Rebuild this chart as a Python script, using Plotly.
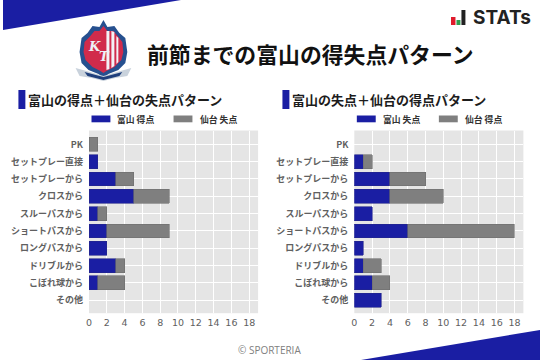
import plotly.graph_objects as go

W, H = 540, 360
categories = ["PK", "セットプレー直接", "セットプレーから", "クロスから", "スルーパスから",
              "ショートパスから", "ロングパスから", "ドリブルから", "こぼれ球から", "その他"]
toyama_scored = [0, 1, 3, 5, 1, 2, 2, 3, 1, 0]
sendai_conceded = [1, 0, 2, 4, 1, 7, 0, 1, 3, 0]
toyama_conceded = [0, 1, 4, 4, 2, 6, 1, 1, 2, 3]
sendai_scored = [0, 1, 4, 6, 0, 12, 0, 2, 2, 0]
x_ticks = list(range(0, 20, 2))

BLUE = "#1a1ea3"
GRAY = "#7f7f7f"
TICK = "#606060"
CJK = "Noto Sans CJK JP"

def px(x): return x / W
def py(y): return 1 - y / H

def path(points, close=True):
    s = "M" + " L".join(f"{px(x):.5f},{py(y):.5f}" for x, y in points)
    return s + (" Z" if close else "")

fig = go.Figure()
panels = [
    (toyama_scored, sendai_conceded, "富山 得点", "仙台 失点", "富山の得点＋仙台の失点パターン", 86.5, 15.5, 25.5, "x", "y"),
    (toyama_conceded, sendai_scored, "富山 失点", "仙台 得点", "富山の失点＋仙台の得点パターン", 353.3, 281, 290.8, "x2", "y2"),
]
shapes, notes = [], []

def rect(x0, y0, x1, y1, color):
    shapes.append(dict(type="rect", xref="paper", yref="paper", x0=px(x0), x1=px(x1), y0=py(y1), y1=py(y0),
                       fillcolor=color, line=dict(width=0), layer="above"))

def poly(points, color, lc=None, lw=0):
    shapes.append(dict(type="path", xref="paper", yref="paper", path=path(points), fillcolor=color,
                       line=dict(width=lw, color=lc or color), layer="above"))

def text(x, y, s, size, color="#222222", anchor="left", family=CJK, bold=False, italic=False):
    if bold: s = f"<b>{s}</b>"
    if italic: s = f"<i>{s}</i>"
    notes.append(dict(xref="paper", yref="paper", x=px(x), y=py(y), text=s, showarrow=False, xanchor=anchor,
                      yanchor="middle", font=dict(size=size, color=color, family=family), borderpad=0, borderwidth=0))

def edge(values):
    return [0.6 if v else 0 for v in values]

layout_axes = {}
for a, b, na, nb, title, x0, block_x, title_x, xa, ya in panels:
    fig.add_trace(go.Bar(y=categories, x=a, name=na, orientation="h", xaxis=xa, yaxis=ya, width=0.8,
                         marker=dict(color=BLUE, line=dict(width=edge(a), color="#24278a")), showlegend=False))
    fig.add_trace(go.Bar(y=categories, x=b, name=nb, orientation="h", xaxis=xa, yaxis=ya, width=0.8,
                         marker=dict(color=GRAY, line=dict(width=edge(b), color="#6e6e6e")), showlegend=False))
    suffix = "" if xa == "x" else "2"
    layout_axes["xaxis" + suffix] = dict(
        domain=[px(x0), px(x0 + 170)], range=[0, 19], tickvals=x_ticks, showgrid=True, gridcolor="white", gridwidth=1,
        zeroline=False, showline=False, ticks="", anchor=ya, ticklabelstandoff=2,
        tickfont=dict(size=9.5, color=TICK, family="DejaVu Sans"))
    layout_axes["yaxis" + suffix] = dict(
        domain=[py(313.2), py(130.5)], type="category", categoryorder="array", categoryarray=categories,
        range=[9.75, -0.8], showgrid=True, gridcolor="white", gridwidth=1, zeroline=False, showline=False, ticks="",
        anchor=xa, ticklabelstandoff=5, tickfont=dict(size=9, color=TICK, family=CJK, weight="bold"))
    # panel heading and legend
    rect(block_x, 90, block_x + 7, 109, BLUE)
    text(title_x, 99.5, title, 13.0, family=CJK, color="#1c1c1c", bold=True)
    rect(x0 + 2.5, 115.5, x0 + 21.5, 122.3, BLUE)
    text(x0 + 28.5, 120, na, 8.8, color="#333333", bold=True)
    rect(x0 + 85, 115.5, x0 + 104, 122.3, GRAY)
    text(x0 + 111.5, 120, nb, 8.8, color="#333333", bold=True)

# corner bands
poly([(0, 0), (179, 0), (0, 30)], BLUE)
poly([(540, 330), (540, 360), (360, 360)], BLUE)

# header
text(144.5, 53.5, "前節までの富山の得失点パターン", 21.85, color="#111111", bold=True)
text(267.5, 350, "© SPORTERIA", 10, color="#808080", anchor="center", family="Open Sans")

# STATs mark
rect(450.5, 17, 455, 25, "#e01b2c")
rect(456, 20, 460, 25, "#2e9e4f")
rect(461, 10, 465, 25, "#222222")
text(472.5, 17.5, "STATs", 19, color="#222222", family="Inter", bold=True)

# club crest
crest = [(101, 20), (105, 27), (112, 26), (117, 33), (123, 38), (125, 52), (123, 63), (116, 70), (106, 74), (101, 78),
         (96, 74), (86, 70), (79, 63), (77, 52), (79, 38), (85, 33), (90, 26), (97, 27)]
poly(crest, "#26508f")
inner = [(101, 26), (105, 31), (111, 31), (116, 37), (120, 42), (121, 52), (119, 60), (112, 67), (104, 71), (101, 73),
         (98, 71), (90, 67), (83, 60), (81, 52), (82, 42), (87, 37), (92, 31), (97, 31)]
poly(inner, "#d12b4b")
poly([(104, 31), (107, 31), (107, 69), (104, 70)], "#f2f2f6")
poly([(109, 31), (112, 32), (112, 66), (109, 68)], "#f2f2f6")
poly([(114, 36), (116, 38), (116, 62), (114, 64)], "#f2f2f6")
poly([(73, 68), (84, 71), (101, 76), (118, 71), (129, 68), (125, 76), (113, 78), (101, 81), (89, 78), (77, 76)],
     "#c9d2dc")
poly([(82, 72), (101, 77), (120, 72), (117, 76), (101, 80), (85, 76)], "#1f3f7c")
text(92, 46, "K", 13, color="#eef1f8", anchor="center", family="DejaVu Serif", bold=True, italic=True)
text(102, 56, "T", 13, color="#eef1f8", anchor="center", family="DejaVu Serif", bold=True, italic=True)

fig.update_layout(
    width=W, height=H, margin=dict(l=0, r=0, t=0, b=0), barmode="stack", paper_bgcolor="white",
    plot_bgcolor="#e5e5e5", showlegend=False, shapes=shapes, annotations=notes, font=dict(family=CJK),
    **layout_axes)
fig.write_html("out.html", config=dict(displayModeBar=False),
               post_script="document.body.style.margin='0';document.documentElement.style.overflow='hidden';")
